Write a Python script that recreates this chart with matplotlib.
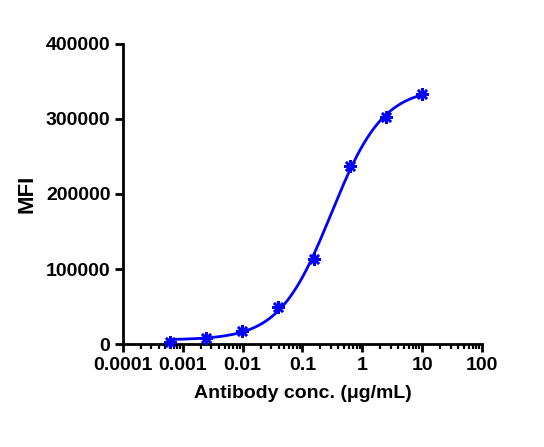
import numpy as np
import matplotlib
matplotlib.use("Agg")
import matplotlib.pyplot as plt
from matplotlib import font_manager
from matplotlib.ticker import LogLocator, FixedLocator, NullFormatter

# ============================
# data
# ============================
conc = [0.00061, 0.00244, 0.00977, 0.0391, 0.156, 0.625, 2.5, 10.0]
mfi = [3100, 7600, 17700, 49000, 114000, 237300, 303000, 332900]

x_ticks = [0.0001, 0.001, 0.01, 0.1, 1, 10, 100]
x_tick_labels = ["0.0001", "0.001", "0.01", "0.1", "1", "10", "100"]
y_ticks = [0, 100000, 200000, 300000, 400000]
y_tick_labels = ["0", "100000", "200000", "300000", "400000"]

BLUE = "#0000ff"


# 4PL fit: grid search on EC50 / hill, bottom & top by linear least squares
def fit_4pl(x, y):
    x = np.asarray(x, float)
    y = np.asarray(y, float)
    best = None
    for logec in np.linspace(-2, 1, 301):
        for hill in np.linspace(0.5, 2.0, 151):
            f = 1.0 / (1.0 + (10 ** logec / x) ** hill)
            A = np.column_stack([1 - f, f])
            coef, *_ = np.linalg.lstsq(A, y, rcond=None)
            err = np.sum((A @ coef - y) ** 2)
            if best is None or err < best[0]:
                best = (err, coef[0], coef[1], 10 ** logec, hill)
    return best[1:]


def curve(x, bottom, top, ec50, hill):
    return bottom + (top - bottom) / (1.0 + (ec50 / x) ** hill)


names = {f.name for f in font_manager.fontManager.ttflist}
narrow = "Liberation Sans Narrow" in names
print("narrow:", narrow)

plt.rcParams["font.family"] = ["Liberation Sans", "DejaVu Sans"]
plt.rcParams["font.weight"] = "bold"
tick_font = "Liberation Sans Narrow" if narrow else "Liberation Sans"
tick_size = 17 if narrow else 14

fig = plt.figure(figsize=(5.44, 4.47), dpi=100)
ax = fig.add_axes([0.226, 0.2304, 0.660, 0.6712])

bottom, top, ec50, hill = fit_4pl(conc, mfi)
xs = np.logspace(np.log10(conc[0]), np.log10(conc[-1]), 300)
ax.plot(xs, curve(xs, bottom, top, ec50, hill), color=BLUE, lw=2.0, zorder=2)
ax.plot(conc, mfi, ls="none", marker=(8, 2, 0), ms=9, mew=1.8,
        color=BLUE, zorder=3, clip_on=False)

ax.set_xscale("log")
ax.set_xlim(0.0001, 100)
ax.set_ylim(0, 400000)

ax.xaxis.set_major_locator(FixedLocator(x_ticks))
ax.set_xticklabels(x_tick_labels)
ax.xaxis.set_minor_locator(LogLocator(base=10, subs=np.arange(2, 10)))
ax.xaxis.set_minor_formatter(NullFormatter())
ax.yaxis.set_major_locator(FixedLocator(y_ticks))
ax.set_yticklabels(y_tick_labels)
for lab in ax.get_xticklabels() + ax.get_yticklabels():
    lab.set_fontfamily(tick_font)
    lab.set_fontsize(tick_size)
    lab.set_fontweight("bold")

for s in ["top", "right"]:
    ax.spines[s].set_visible(False)
for s in ["left", "bottom"]:
    ax.spines[s].set_linewidth(2.0)

ax.tick_params(axis="both", which="major", length=6, width=2.0, pad=3)
ax.tick_params(axis="x", which="minor", length=3.5, width=1.6)

ax.set_xlabel("Antibody conc. (μg/mL)", fontsize=14, fontweight="bold", labelpad=8)
ax.set_ylabel("MFI", fontsize=16, fontweight="bold", labelpad=6)

fig.savefig("out.png", dpi=100)
